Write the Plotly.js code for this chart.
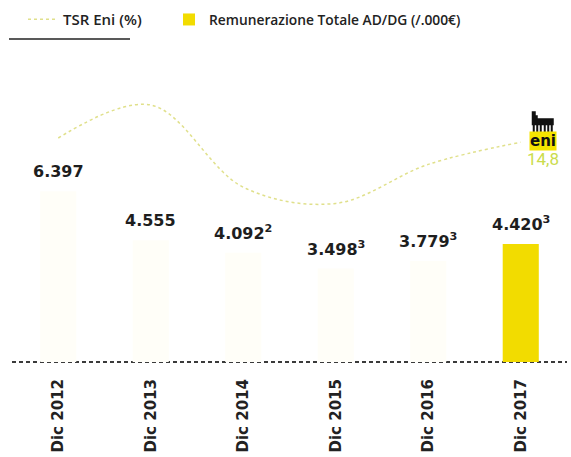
<!DOCTYPE html>
<html>
<head>
<meta charset="utf-8">
<script src="https://cdn.plot.ly/plotly-3.0.1.min.js"></script>
<style>html,body{margin:0;padding:0;background:#fff}#chart{width:571px;height:457px}</style>
</head>
<body>
<div id="chart"></div>
<script>
// ---- data ----
const categories = ['Dic 2012', 'Dic 2013', 'Dic 2014', 'Dic 2015', 'Dic 2016', 'Dic 2017'];
const remunerazione = [6397, 4555, 4092, 3498, 3779, 4420];   // /.000 €
const noteRimando = ['', '', '2', '3', '3', '3'];              // superscript footnotes
const tsrEni = [15.5, 21.0, 7.3, 4.6, 11.1, 14.8];             // %
const barColors = ['#fffef8', '#fffef8', '#fffef8', '#fffef8', '#fffef8', '#f2dc00'];

function fmtIt(v) { return String(v).replace(/\B(?=(\d{3})+(?!\d))/g, '.'); }
const rev = a => a.slice().reverse();   // latest year first so the legend swatch takes its colour

const traces = [
  {
    type: 'scatter', mode: 'lines', name: 'TSR Eni (%)', legend: 'legend',
    x: categories, y: tsrEni, yaxis: 'y2',
    line: {shape: 'spline', smoothing: 1, dash: 'dot', color: 'rgba(214,214,100,0.75)', width: 1.5},
    hoverinfo: 'skip'
  },
  {
    type: 'bar', name: 'Remunerazione Totale AD/DG (/.000€)', legend: 'legend2',
    x: rev(categories), y: rev(remunerazione),
    marker: {color: rev(barColors)},
    hoverinfo: 'skip'
  }
];

const annotations = categories.map((c, i) => ({
  x: c, y: remunerazione[i], xref: 'x', yref: 'y',
  text: fmtIt(remunerazione[i]) + (noteRimando[i] ? '<sup>' + noteRimando[i] + '</sup>' : ''),
  showarrow: false, yanchor: 'bottom', yshift: 8,
  font: {family: 'DejaVu Sans', size: 16, weight: 700, color: '#1e1e1e'}
}));
const last = tsrEni.length - 1;
annotations.push({
  x: categories[last], y: tsrEni[last], xref: 'x', yref: 'y2',
  text: '<b>eni</b>', showarrow: false, xshift: 22, yshift: 1,
  bgcolor: '#f5e400', borderpad: 0,
  font: {family: 'DejaVu Sans', size: 15, color: '#111'}
});
annotations.push({
  x: categories[last], y: tsrEni[last], xref: 'x', yref: 'y2',
  text: String(tsrEni[last]).replace('.', ','), showarrow: false, xshift: 22, yshift: -17,
  font: {family: 'Roboto', size: 17, color: '#cbdc4c'}
});

// six-legged dog (logo), pixel path relative to last TSR point
const dogPath = 'M11,20 L11,31 L15,31 L15,27 L17,27 L17,24 L33,24 L33,17 L11,17 Z ' +
  [12, 15.5, 19, 23, 26.5, 30].map(x => `M${x},17 L${x},10 L${x + 2},10 L${x + 2},17 Z`).join(' ');

const layout = {
  width: 571, height: 457,
  margin: {l: 12, r: 4, t: 60, b: 94},
  paper_bgcolor: '#fff', plot_bgcolor: '#fff',
  font: {family: 'Open Sans', color: '#222'},
  bargap: 0.61,
  showlegend: true,
  legend: {
    orientation: 'h', xref: 'container', yref: 'container',
    x: 23 / 571, xanchor: 'left', y: 1 - 3 / 457, yanchor: 'top',
    font: {family: 'Open Sans', size: 15, weight: 600, color: '#222'}
  },
  legend2: {
    orientation: 'h', xref: 'container', yref: 'container',
    x: 169 / 571, xanchor: 'left', y: 1 - 4 / 457, yanchor: 'top',
    font: {family: 'Open Sans', size: 13.8, weight: 600, color: '#222'}
  },
  xaxis: {
    type: 'category', categoryorder: 'array', categoryarray: categories,
    tickangle: -90, ticks: '', showline: false, showgrid: false,
    ticklabelstandoff: 12,
    tickfont: {family: 'DejaVu Sans', size: 15, weight: 700, color: '#222'}
  },
  yaxis: {
    range: [-40, 11310], autorange: false, showticklabels: false, zeroline: false,
    tickvals: [0], showgrid: true, gridcolor: '#3a3a3a', gridwidth: 1.5, griddash: '4px,3px'
  },
  yaxis2: {
    overlaying: 'y', range: [-22, 28.5], autorange: false,
    showticklabels: false, showgrid: false, zeroline: false, showline: false
  },
  annotations: annotations,
  shapes: [
    {type: 'line', xref: 'paper', yref: 'paper', x0: -3 / 555, x1: 118 / 555, y0: 324 / 303, y1: 324 / 303,
     line: {color: '#222', width: 1.5}},
    {type: 'path', xref: 'x', yref: 'y2', xsizemode: 'pixel', ysizemode: 'pixel',
     xanchor: categories[last], yanchor: tsrEni[last], path: dogPath,
     fillcolor: '#111', line: {width: 0}}
  ]
};

Plotly.newPlot('chart', traces, layout, {staticPlot: true, displayModeBar: false});
</script>
</body>
</html>
